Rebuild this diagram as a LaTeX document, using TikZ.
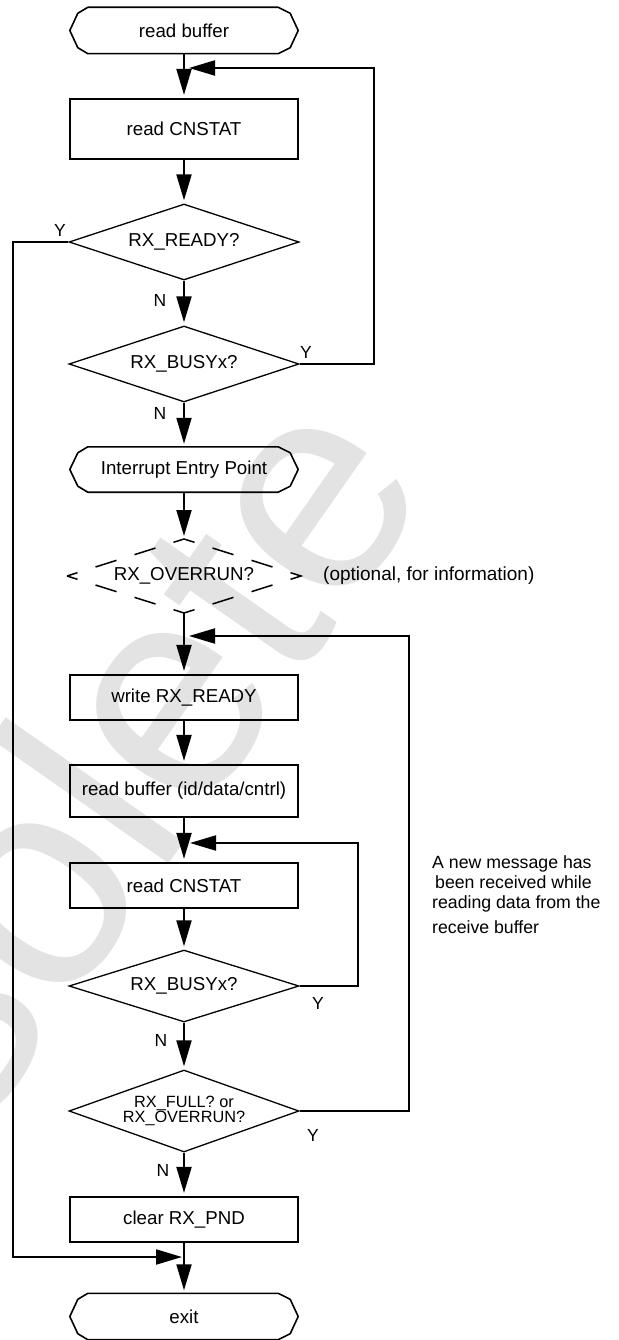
\documentclass[tikz,border=0pt]{standalone}
\usepackage{fontspec}
\setmainfont{Liberation Sans}
\usetikzlibrary{arrows.meta, positioning, shapes.geometric}
\newcommand{\fsz}[1]{\fontsize{#1}{#1}\selectfont}
\newcommand{\termedge}[1]{%
  \draw[edge] ([xshift=18pt]#1.north west) -- ([xshift=-20pt]#1.north east)
    -- ([xshift=-8pt, yshift=-6pt]#1.north east) -- (#1.east)
    -- ([xshift=-8pt, yshift=6pt]#1.south east) -- ([xshift=-20pt]#1.south east)
    -- ([xshift=18pt]#1.south west) -- ([xshift=8pt, yshift=6pt]#1.south west)
    -- (#1.west) -- ([xshift=8pt, yshift=-6pt]#1.north west) -- cycle;}
\tikzset{
  prc/.style  = {draw, line width=2.2pt, minimum width=228pt, inner sep=2pt, font=\fsz{18.7}},
  dec/.style  = {diamond, draw, line width=1.3pt, aspect=3, inner sep=1pt,
                 minimum width=230pt, minimum height=76pt, font=\fsz{18.7}},
  term/.style = {minimum width=228pt, minimum height=46pt, inner sep=0pt, font=\fsz{18.7}},
  edge/.style = {line width=1.6pt, line join=round},
  opt/.style  = {line width=1.5pt, dash pattern=on 22pt off 18.9pt, dash phase=11pt},
  fl/.style   = {-{Triangle[length=26pt, width=15pt]}, line width=2pt, shorten >=3pt},
  back/.style = {fl, shorten >=0pt},
  lbl/.style  = {font=\fsz{17.5}, inner sep=0pt},
  wm/.style   = {text=black!11, font=\fsz{300}, rotate=55, anchor=base west, inner sep=0pt},
}

\begin{document}
\begin{tikzpicture}[x=1pt, y=-1pt]
\useasboundingbox (0,0) rectangle (618,1340);
\begin{scope}
  \clip (0,0) rectangle (618,1340);
  \node[wm] (wm) at (-254,1468) {Obsolete};
\end{scope}

\node[term] (t1) at (184,30.5) {read buffer};
\node[prc, minimum height=60pt] (b1) at (184,129) {read CNSTAT};
\node[dec] (d1) at (184,242) {RX\_READY?};
\node[dec] (d2) at (184,364) {RX\_BUSYx?};
\node[term, minimum height=45pt] (t2) at (184,469.5) {Interrupt Entry Point};
\node[dec, draw=none, outer sep=0pt, minimum width=234pt, minimum height=74pt] (d3) at (184,576) {RX\_OVERRUN?};
\node[prc, minimum height=45pt] (b2) at (184,697.5) {write RX\_READY};
\node[prc, minimum height=52pt] (b3) at (184,791) {read buffer (id/data/cntrl)};
\node[prc, minimum height=45pt] (b4) at (184,885.5) {read CNSTAT};
\node[dec, minimum height=72pt] (d4) at (184,986) {RX\_BUSYx?};
\node[dec, minimum height=82pt, align=center, font={\fontsize{16.3}{15.7}\selectfont}] (d5) at (184,1111)
  {RX\_FULL? or\\RX\_OVERRUN?};
\node[prc, minimum height=45pt] (b5) at (184,1219.5) {clear RX\_PND};
\node[term] (t3) at (184,1316.5) {exit};
\foreach \t in {t1,t2,t3} \termedge{\t};
\draw[opt] (d3.west) -- (d3.north) -- (d3.east) -- (d3.south) -- cycle;

\node[font=\fsz{19}, inner sep=0pt, right=22pt of d3] (optn) {(optional, for information)};
\node[font={\fontsize{17.7}{20}\selectfont}, align=left, inner sep=0pt, anchor=north west] (note) at (432,855)
  {A new message has\\\hspace*{3pt}been received while\\reading data from the\\[5pt]receive buffer};

\coordinate (j1) at (189,68);
\coordinate (j2) at (189,636);
\coordinate (j3) at (190,843);
\coordinate (j4) at (182,1257);

\draw[fl] (t1) -- (b1);
\draw[fl] (b1) -- (d1);
\draw[fl] (d1) -- (d2);
\draw[fl] (d2) -- (t2);
\draw[fl] (t2) -- (d3);
\draw[fl] (d3) -- (b2);
\draw[fl] (b2) -- (b3);
\draw[fl] (b3) -- (b4);
\draw[fl] (b4) -- (d4);
\draw[fl] (d4) -- (d5);
\draw[fl] (d5) -- (b5);
\draw[fl] (b5) -- (t3);

\draw[back] (d2.east) -- ++(74,0) |- (j1);
\draw[back] (d5.east) -- ++(109,0) |- (j2);
\draw[back] (d4.east) -- ++(58,0) |- (j3);
\draw[back] (d1.west) -- ++(-55,0) |- (j4);

\node[lbl] (y1) at (60,230) {Y};
\node[lbl] (y2) at (306,352) {Y};
\node[lbl] (y3) at (318,1003) {Y};
\node[lbl] (y4) at (313,1135) {Y};
\node[lbl] (n1) at (160,300) {N};
\node[lbl] (n2) at (160,413) {N};
\node[lbl] (n3) at (161,1040) {N};
\node[lbl] (n4) at (163,1170) {N};
\end{tikzpicture}
\end{document}
